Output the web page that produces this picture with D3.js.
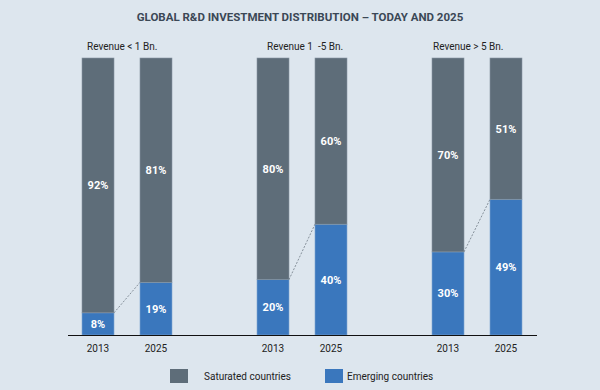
<!DOCTYPE html>
<html>
<head>
<meta charset="utf-8">
<script src="https://cdn.jsdelivr.net/npm/d3@7"></script>
<style>
  body { margin: 0; background: #dde6ee; }
  svg { display: block; font-family: "Roboto", "Liberation Sans", sans-serif; }
</style>
</head>
<body>
<div id="chart"></div>
<script>
// Data
const groups = ["Revenue < 1 Bn.", "Revenue 1  -5 Bn.", "Revenue > 5 Bn."];
const years = ["2013", "2025"];
const emerging = [[8, 19], [20, 40], [30, 49]];
const saturated = [[92, 81], [80, 60], [70, 51]];
const seriesNames = ["Saturated countries", "Emerging countries"];
const colors = { sat: "#5e6d79", emg: "#3a77bd" };

const width = 600, height = 390;
const svg = d3.select("#chart").append("svg")
    .attr("width", width)
    .attr("height", height);

svg.append("rect").attr("width", width).attr("height", height).attr("fill", "#dde6ee");

// Title
svg.append("text")
    .attr("x", 300)
    .attr("y", 21)
    .attr("text-anchor", "middle")
    .style("font-size", "11.5px")
    .style("font-weight", "bold")
    .attr("fill", "#3b4856")
    .text("GLOBAL R&D INVESTMENT DISTRIBUTION \u2013 TODAY AND 2025");

// Scales
const x0 = d3.scaleBand().domain(groups).range([39.5, 564.5]).padding(0);
const x1 = d3.scaleBand().domain(years).range([0, x0.bandwidth()])
    .paddingInner(26 / 58).paddingOuter(0.733);
const y = d3.scaleLinear().domain([0, 100]).range([335, 58]);

const labelShift = [5, 10, 1];

groups.forEach((g, gi) => {
    const gx = x0(g);
    const gEl = svg.append("g").attr("transform", `translate(${gx},0)`);

    // group label
    gEl.append("text")
        .attr("x", x1(years[0]) + labelShift[gi])
        .attr("y", 50)
        .style("font-size", "10px")
        .style("white-space", "pre")
        .attr("fill", "#222")
        .text(g);

    years.forEach((yr, yi) => {
        const bx = x1(yr), bw = x1.bandwidth();
        const e = emerging[gi][yi], s = saturated[gi][yi];
        // emerging (bottom)
        gEl.append("rect")
            .attr("x", bx).attr("y", y(e))
            .attr("width", bw).attr("height", y(0) - y(e))
            .attr("fill", colors.emg)
            .attr("stroke", "#7fa6d0").attr("stroke-width", 0.6);
        // saturated (top)
        gEl.append("rect")
            .attr("x", bx).attr("y", y(e + s))
            .attr("width", bw).attr("height", y(e) - y(e + s))
            .attr("fill", colors.sat)
            .attr("stroke", "#8795a1").attr("stroke-width", 0.6);

        gEl.append("text")
            .attr("x", bx + bw / 2)
            .attr("y", (y(e + s) + y(e)) / 2 + 4)
            .attr("text-anchor", "middle")
            .style("font-size", "11px")
            .style("font-weight", "bold")
            .attr("fill", "#fff")
            .text(s + "%");
        gEl.append("text")
            .attr("x", bx + bw / 2)
            .attr("y", (y(e) + y(0)) / 2 + 4)
            .attr("text-anchor", "middle")
            .style("font-size", "11px")
            .style("font-weight", "bold")
            .attr("fill", "#fff")
            .text(e + "%");

        // year label
        gEl.append("text")
            .attr("x", bx + bw / 2)
            .attr("y", 352)
            .attr("text-anchor", "middle")
            .style("font-size", "10px")
            .attr("fill", "#222")
            .text(yr);
    });

    // dotted connector
    gEl.append("line")
        .attr("x1", x1(years[0]) + x1.bandwidth())
        .attr("y1", y(emerging[gi][0]))
        .attr("x2", x1(years[1]))
        .attr("y2", y(emerging[gi][1]))
        .attr("stroke", "#6f7a84")
        .attr("stroke-width", 0.8)
        .attr("stroke-dasharray", "2,1.5");
});

// Baseline
svg.append("line")
    .attr("x1", 68).attr("x2", 537)
    .attr("y1", y(0) + 0.5).attr("y2", y(0) + 0.5)
    .attr("stroke", "#111").attr("stroke-width", 1);

// Legend
const legendX = [170, 325];
const legendTextX = [204, 347];
seriesNames.forEach((name, i) => {
    svg.append("rect")
        .attr("x", legendX[i]).attr("y", 369)
        .attr("width", 18).attr("height", 14)
        .attr("fill", i === 0 ? colors.sat : colors.emg);
    svg.append("text")
        .attr("x", legendTextX[i])
        .attr("y", 380)
        .style("font-size", "10px")
        .attr("fill", "#222")
        .text(name);
});
</script>
</body>
</html>
